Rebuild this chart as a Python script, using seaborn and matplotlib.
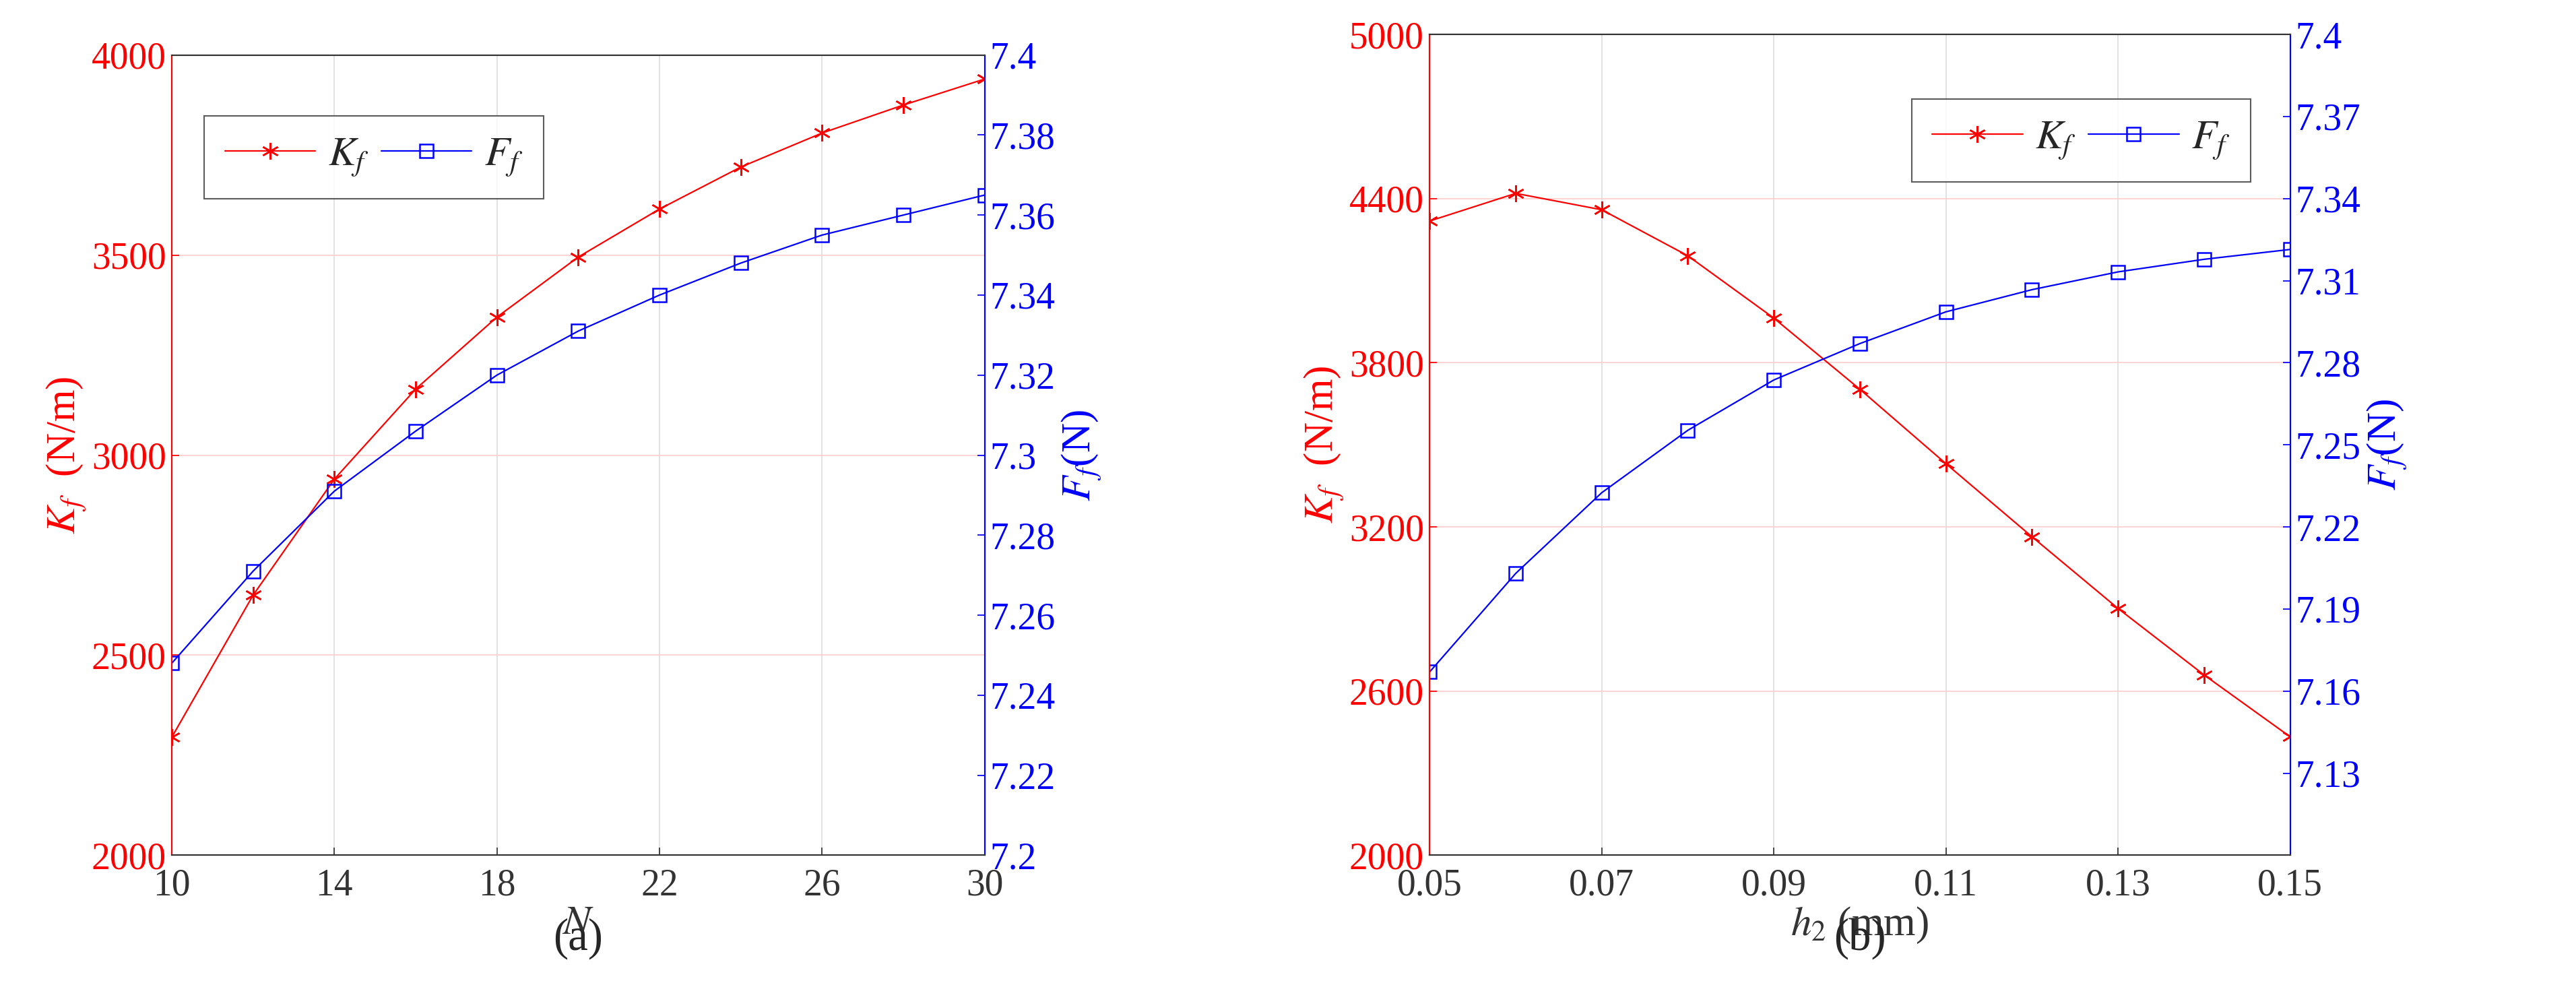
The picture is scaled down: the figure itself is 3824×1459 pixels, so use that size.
import matplotlib
matplotlib.use("Agg")
import matplotlib.pyplot as plt
import seaborn as sns
import numpy as np

sns.set_theme(style="white")
plt.rcParams['font.family'] = ['Liberation Serif', 'DejaVu Serif']
plt.rcParams['mathtext.fontset'] = 'stix'

N = [10, 12, 14, 16, 18, 20, 22, 24, 26, 28, 30]
Kf_a = [2295, 2650, 2940, 3165, 3345, 3495, 3615, 3720, 3805, 3875, 3940]
Ff_a = [7.248, 7.271, 7.291, 7.306, 7.320, 7.331, 7.340, 7.348, 7.355, 7.360, 7.365]

h2 = [0.05, 0.06, 0.07, 0.08, 0.09, 0.10, 0.11, 0.12, 0.13, 0.14, 0.15]
Kf_b = [4318, 4419, 4359, 4191, 3963, 3703, 3431, 3164, 2902, 2659, 2433]
Ff_b = [7.167, 7.203, 7.2325, 7.2553, 7.2737, 7.287, 7.2986, 7.3067, 7.3132, 7.3178, 7.3214]

RED = '#ff0000'
BLUE = '#0000ff'
FS = 40

fig = plt.figure(figsize=(38.24, 14.59), dpi=100)
axA = fig.add_axes([0.0667, 0.130, 0.3155, 0.814])
axB = fig.add_axes([0.555, 0.130, 0.334, 0.835])

def panel(ax, x, k, f, ylim, yticks, y2lim, y2ticks, y2labels, xticks, xlabels, xlabel, leg_loc, letter):
    ax2 = ax.twinx()
    sns.lineplot(x=x, y=k, ax=ax, color=RED, marker=(6, 2, 0), markersize=18,
                 markeredgecolor=RED, markeredgewidth=1.8, lw=1.6, label=r'$K_f$', legend=False)
    sns.lineplot(x=x, y=f, ax=ax2, color=BLUE, marker='s', markersize=14, markerfacecolor='none',
                 markeredgecolor=BLUE, markeredgewidth=1.8, lw=1.6, label=r'$F_f$', legend=False)
    ax.set_xlim(x[0], x[-1])
    ax.set_ylim(*ylim)
    ax.set_yticks(yticks)
    ax.set_xticks(xticks)
    ax.set_xticklabels(xlabels)
    ax2.set_ylim(*y2lim)
    ax2.set_yticks(y2ticks)
    ax2.set_yticklabels(y2labels)
    ax.grid(axis='x', color='#dddddd', lw=1.2)
    ax.grid(axis='y', color='#ffcccc', lw=1.2)
    ax.tick_params(axis='y', colors=RED, labelsize=FS, direction='in', length=8, left=True, pad=6)
    ax.tick_params(axis='x', colors='#333333', labelsize=FS, direction='in', length=8, bottom=True, pad=14)
    ax2.tick_params(axis='y', colors=BLUE, labelsize=FS, direction='in', length=8, right=True, pad=6)
    for a in (ax, ax2):
        a.spines['left'].set_color(RED)
        a.spines['right'].set_color(BLUE)
        a.spines['top'].set_color('#333333')
        a.spines['bottom'].set_color('#333333')
        for s in a.spines.values():
            s.set_linewidth(1.5)
    ax.set_ylabel(r'$K_f$  (N/m)', color=RED, fontsize=FS + 4)
    ax2.set_ylabel(r'$F_f$(N)', color=BLUE, fontsize=FS + 4)
    ax.set_xlabel(xlabel, color='#333333', fontsize=FS + 4, labelpad=2)
    ax2.set_xlabel('')
    h1, l1 = ax.get_legend_handles_labels()
    hh, l2 = ax2.get_legend_handles_labels()
    leg = ax2.legend(h1 + hh, l1 + l2, loc=leg_loc, ncol=2, fontsize=FS + 4, frameon=True,
                     fancybox=False, edgecolor='#333333', handlelength=2.2, columnspacing=0.3,
                     handletextpad=0.3, borderpad=0.5)
    leg.get_frame().set_linewidth(1.5)
    pos = ax.get_position()
    fig.text((pos.x0 + pos.x1) / 2, 0.045, letter, ha='center', va='center', fontsize=FS + 8)

panel(axA, N, Kf_a, Ff_a, (2000, 4000), [2000, 2500, 3000, 3500, 4000],
      (7.2, 7.4), np.round(np.arange(7.2, 7.401, 0.02), 2),
      ['7.2', '7.22', '7.24', '7.26', '7.28', '7.3', '7.32', '7.34', '7.36', '7.38', '7.4'],
      [10, 14, 18, 22, 26, 30], ['10', '14', '18', '22', '26', '30'], r'$N$',
      (0.04, 0.82), '(a)')
panel(axB, h2, Kf_b, Ff_b, (2000, 5000), [2000, 2600, 3200, 3800, 4400, 5000],
      (7.1, 7.4), np.round(np.arange(7.13, 7.401, 0.03), 2),
      ['7.13', '7.16', '7.19', '7.22', '7.25', '7.28', '7.31', '7.34', '7.37', '7.4'],
      [0.05, 0.07, 0.09, 0.11, 0.13, 0.15], ['0.05', '0.07', '0.09', '0.11', '0.13', '0.15'],
      r'$h_2$ (mm)', (0.56, 0.82), '(b)')

fig.savefig('out.png', dpi=100)
